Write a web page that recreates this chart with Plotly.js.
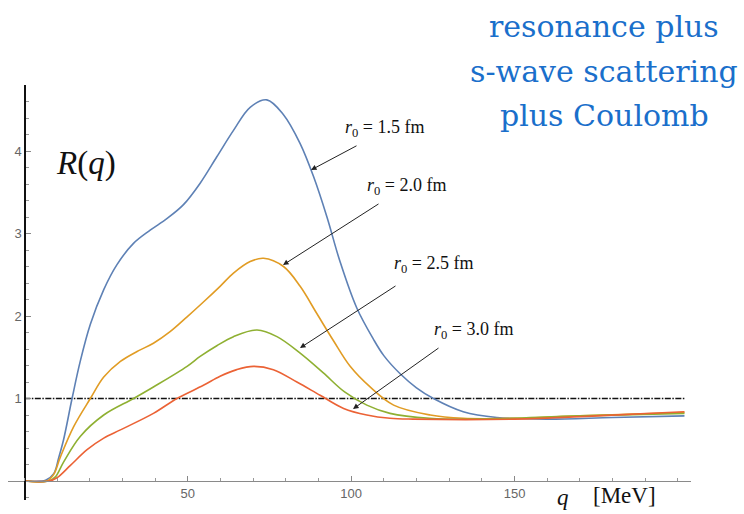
<!DOCTYPE html>
<html>
<head>
<meta charset="utf-8">
<script src="https://cdn.plot.ly/plotly-3.0.1.min.js"></script>
<style>html,body{margin:0;padding:0;background:#fff;}#chart{width:744px;height:514px;}</style>
</head>
<body>
<div id="chart"></div>
<script>
// ---- data ----
const seriesNames = ["r0 = 1.5 fm", "r0 = 2.0 fm", "r0 = 2.5 fm", "r0 = 3.0 fm"];

const qBlue = [0, 5, 6.5, 9, 10.5, 12, 14.6, 17.1, 20.2, 24.3, 28.3, 33.4, 38.5, 43.6, 48.7, 53.8, 58.9, 64, 69.1, 74.2, 79.3, 84.4, 88.5, 92.6, 96.6, 101.7, 106.8, 110, 115, 120, 125.2, 134.3, 144.6, 159.8, 180, 202];
const rBlue = [0, 0, 0.01, 0.09, 0.28, 0.5, 1.0, 1.45, 1.9, 2.32, 2.62, 2.88, 3.04, 3.18, 3.35, 3.61, 3.93, 4.25, 4.53, 4.62, 4.44, 4.09, 3.69, 3.2, 2.66, 2.1, 1.72, 1.52, 1.3, 1.13, 1.0, 0.84, 0.77, 0.75, 0.77, 0.79];

const qOrange = [0, 6.9, 9, 11, 15.1, 20.2, 24.3, 29.4, 34.5, 39.5, 44.6, 49.8, 54.8, 59.9, 64, 69.1, 73.2, 79.3, 84.4, 89.5, 94.6, 99.7, 105.8, 113, 124.2, 134.3, 150, 170, 202];
const rOrange = [0, 0, 0.08, 0.29, 0.66, 1.0, 1.26, 1.45, 1.57, 1.67, 1.81, 1.99, 2.17, 2.36, 2.52, 2.66, 2.70, 2.6, 2.36, 2.03, 1.7, 1.39, 1.14, 0.92, 0.8, 0.76, 0.76, 0.79, 0.83];

const qGreen = [0, 7.5, 9.5, 12, 17.1, 24.3, 33.4, 39.5, 49.8, 53.8, 58.9, 64, 71.2, 77.3, 84.4, 91.5, 98, 104.8, 111.9, 124, 140, 170, 202];
const rGreen = [0, 0, 0.05, 0.23, 0.54, 0.8, 1.0, 1.14, 1.39, 1.51, 1.64, 1.75, 1.83, 1.75, 1.55, 1.31, 1.08, 0.92, 0.82, 0.76, 0.75, 0.79, 0.82];

const qRed = [0, 7.5, 10, 14.1, 19.2, 24.3, 29.4, 39.5, 46.7, 54.8, 59.9, 65, 70.1, 76.2, 83.4, 90.5, 97.7, 104.8, 111.9, 119, 150, 175, 202];
const rRed = [0, 0, 0.04, 0.19, 0.38, 0.52, 0.62, 0.82, 1.0, 1.16, 1.27, 1.35, 1.39, 1.35, 1.2, 1.04, 0.88, 0.8, 0.76, 0.75, 0.75, 0.79, 0.84];

const refQ = [0, 202];
const refR = [1, 1];

const xTickVals = [50, 100, 150];
const yTickVals = [1, 2, 3, 4];

// ---- styling ----
const colors = ["#5E81B5", "#E19C24", "#8FB032", "#EB6235"];
const xRange = [-5, 204];
const yRange = [-0.23, 4.8];

function line(x, y, c) {
  return {x: x, y: y, type: "scatter", mode: "lines",
          line: {color: c, width: 1.6, shape: "spline", smoothing: 1},
          hoverinfo: "skip", showlegend: false};
}

const traces = [
  {x: refQ, y: refR, type: "scatter", mode: "lines",
   line: {color: "#111", width: 1.3, dash: "6px,1.5px,1.5px,1.5px"}, showlegend: false, hoverinfo: "skip"},
  line(qBlue, rBlue, colors[0]),
  line(qOrange, rOrange, colors[1]),
  line(qGreen, rGreen, colors[2]),
  line(qRed, rRed, colors[3])
];

// pixel helpers for text placement (plot area: x 8..691, y 85..500)
const L = 8, T = 85, W = 683, H = 415;
const px = X => (X - L) / W;
const py = Y => (500 - Y) / H;
const dq = X => xRange[0] + (X - L) / W * (xRange[1] - xRange[0]);
const dr = Y => yRange[1] - (Y - T) / H * (yRange[1] - yRange[0]);

const serif = "Liberation Serif, Times New Roman, serif";
const labelTxt = ["1.5", "2.0", "2.5", "3.0"];
const labelPos = [[343, 128], [365, 186], [392, 264], [432, 330]];
const arrows = [[[311, 170], [358, 145]], [[283, 265], [380, 203]], [[300, 348], [397, 285]], [[353, 409], [440, 347]]];

const annotations = [];
labelTxt.forEach((t, i) => {
  annotations.push({xref: "paper", yref: "paper", x: px(labelPos[i][0]), y: py(labelPos[i][1]),
    xanchor: "left", yanchor: "middle", showarrow: false,
    text: "<i>r</i><sub>0</sub> = " + t + " fm", font: {family: serif, size: 18, color: "#111"}});
  const a = arrows[i];
  annotations.push({xref: "x", yref: "y", axref: "x", ayref: "y",
    x: dq(a[0][0]), y: dr(a[0][1]), ax: dq(a[1][0]), ay: dr(a[1][1]),
    text: "", showarrow: true, arrowhead: 2, arrowsize: 1.1, arrowwidth: 1, arrowcolor: "#222"});
});
annotations.push({xref: "paper", yref: "paper", x: px(54), y: py(163), xanchor: "left", yanchor: "middle",
  showarrow: false, text: "<i>R</i>(<i>q</i>)", font: {family: serif, size: 33, color: "#111"}});
annotations.push({xref: "paper", yref: "paper", x: px(555), y: py(497), xanchor: "left", yanchor: "middle",
  showarrow: false, text: "<i>q</i>", font: {family: serif, size: 23, color: "#111"}});
annotations.push({xref: "paper", yref: "paper", x: px(591), y: py(495), xanchor: "left", yanchor: "middle",
  showarrow: false, text: "[MeV]", font: {family: serif, size: 23, color: "#111"}});
const blueLines = ["resonance plus", "s-wave scattering", "plus Coulomb"];
const blueY = [27, 72, 116];
blueLines.forEach((t, i) => {
  annotations.push({xref: "paper", yref: "paper", x: px(604), y: py(blueY[i]), xanchor: "center", yanchor: "middle",
    showarrow: false, text: t, font: {family: "DejaVu Serif, serif", size: 30, color: "#1A6FCB"}});
});

const layout = {
  width: 744, height: 514,
  margin: {l: L, r: 744 - L - W, t: T, b: 514 - T - H, pad: 0},
  paper_bgcolor: "#fff", plot_bgcolor: "#fff",
  showlegend: false,
  xaxis: {range: xRange, domain: [0, 1], anchor: "free",
    position: (0 - yRange[0]) / (yRange[1] - yRange[0]),
    showgrid: false, zeroline: false, showline: true, linecolor: "#8a8a8a", linewidth: 1.3,
    tickvals: xTickVals, ticktext: xTickVals.map(String), ticks: "inside", ticklen: 5, tickcolor: "#888",
    minor: {dtick: 10, tick0: 0, ticks: "inside", ticklen: 3, tickcolor: "#999", showgrid: false},
    tickfont: {family: "Liberation Sans, Arial, sans-serif", size: 13, color: "#666"}},
  yaxis: {range: yRange, domain: [0, 1], anchor: "free",
    position: (0 - xRange[0]) / (xRange[1] - xRange[0]),
    showgrid: false, zeroline: false, showline: true, linecolor: "#111", linewidth: 1.2,
    tickvals: yTickVals, ticktext: yTickVals.map(String), ticks: "inside", ticklen: 5, tickcolor: "#888",
    minor: {dtick: 0.2, tick0: 0, ticks: "inside", ticklen: 3, tickcolor: "#999", showgrid: false},
    tickfont: {family: "Liberation Sans, Arial, sans-serif", size: 13, color: "#666"}},
  annotations: annotations
};

Plotly.newPlot("chart", traces, layout, {staticPlot: true, displayModeBar: false});
</script>
</body>
</html>
